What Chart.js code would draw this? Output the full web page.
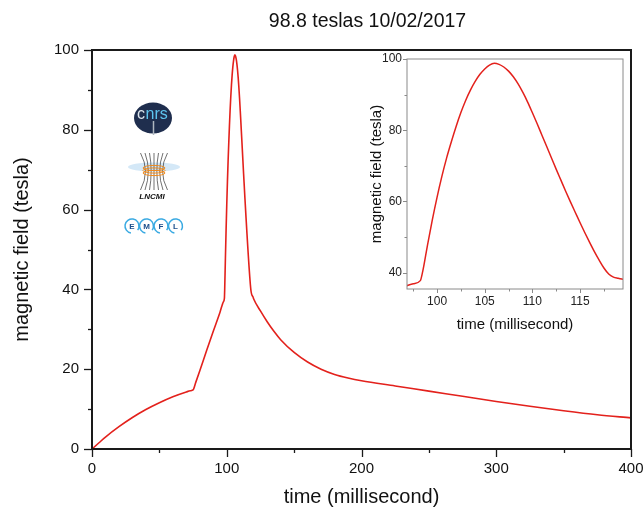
<!DOCTYPE html>
<html>
<head>
<meta charset="utf-8">
<script src="https://cdn.jsdelivr.net/npm/chart.js@4/dist/chart.umd.min.js"></script>
<style>
  body { margin: 0; background: #fff; }
  #wrap { position: relative; width: 643px; height: 510px; }
  #inset { position: absolute; left: 355px; top: 52px; background: #fff; }
</style>
</head>
<body>
<div id="wrap">
  <canvas id="main" width="643" height="510"></canvas>
  <canvas id="inset" width="274" height="290"></canvas>
</div>
<script>
// pulse data
const timeMs = [0, 5, 10, 20, 30, 40, 50, 60, 70, 73, 75, 77,
  80, 85, 90, 95, 97.5, 98.25,
  98.5, 99, 99.5, 100, 100.5, 101, 101.5, 102, 102.5, 103, 103.5, 104, 104.5, 105, 105.5,
  106, 106.5, 107, 107.5, 108, 108.5, 109, 109.5, 110, 110.5, 111, 111.5, 112, 112.5,
  113, 113.5, 114, 114.5, 115, 115.5, 116, 116.5, 117, 117.5, 118, 118.5, 119, 119.5,
  120, 125, 130, 135, 140, 150, 160, 170, 180, 190, 200,
  225, 250, 275, 300, 325, 350, 375, 400];
const fieldT = [0, 1.5, 3.0, 5.6, 7.9, 9.9, 11.6, 13.1, 14.3, 14.6, 14.8, 16.7,
  19.6, 24.6, 29.5, 34.3, 36.9, 37.75,
  40.35, 47.75, 54.75, 61.15, 66.95, 72.15, 76.75, 81.05, 84.95, 88.35, 91.25, 93.7, 95.7, 97.2, 98.3,
  98.8, 98.5, 97.75, 96.6, 95.0, 93.0, 90.6, 87.9, 84.9, 81.8, 78.6, 75.4, 72.2, 69.0,
  65.9, 62.8, 59.8, 56.9, 54.0, 51.2, 48.5, 45.9, 43.5, 41.3, 39.6, 38.75, 38.4, 38.1,
  37.6, 34.6, 31.9, 29.5, 27.4, 24.2, 21.8, 20.0, 18.7, 17.8, 17.1,
  15.8, 14.5, 13.2, 11.9, 10.7, 9.6, 8.6, 7.8];

const mainTitle = "98.8 teslas 10/02/2017";
const xTitle = "time (millisecond)";
const yTitle = "magnetic field (tesla)";

const FONT = "'Liberation Sans', Arial, sans-serif";
const RED = "#e3211c";

const points = timeMs.map((t, i) => ({ x: t, y: fieldT[i] }));

// frame + outward major/minor ticks drawn from the scales
function frameTicks(opts) {
  return {
    id: "frameTicks",
    afterDraw(chart) {
      const { ctx, chartArea: a, scales } = chart;
      ctx.save();
      ctx.strokeStyle = opts.color;
      ctx.lineWidth = opts.width;
      ctx.strokeRect(a.left, a.top, a.right - a.left, a.bottom - a.top);
      ctx.lineWidth = opts.tickWidth;
      const xs = scales.x, ys = scales.y;
      const x0 = Math.ceil(xs.min / opts.xMinor) * opts.xMinor;
      for (let v = x0; v <= xs.max + 1e-9; v += opts.xMinor) {
        const px = Math.round(xs.getPixelForValue(v)) + 0.5;
        const major = Math.abs(v / opts.xMajor - Math.round(v / opts.xMajor)) < 1e-6;
        const len = major ? opts.major : opts.minor;
        ctx.beginPath();
        ctx.moveTo(px, a.bottom);
        ctx.lineTo(px, a.bottom + len);
        ctx.stroke();
      }
      const y0 = Math.ceil(ys.min / opts.yMinor) * opts.yMinor;
      for (let v = y0; v <= ys.max + 1e-9; v += opts.yMinor) {
        const py = Math.round(ys.getPixelForValue(v)) + 0.5;
        const major = Math.abs(v / opts.yMajor - Math.round(v / opts.yMajor)) < 1e-6;
        const len = major ? opts.major : opts.minor;
        ctx.beginPath();
        ctx.moveTo(a.left, py);
        ctx.lineTo(a.left - len, py);
        ctx.stroke();
      }
      ctx.restore();
    }
  };
}

function drawLogos(ctx) {
  ctx.save();
  // cnrs
  ctx.fillStyle = "#1f2e4e";
  ctx.beginPath();
  ctx.ellipse(153, 118, 19, 15.5, 0, 0, Math.PI * 2);
  ctx.fill();
  ctx.font = "16px " + FONT;
  ctx.textBaseline = "middle";
  ctx.textAlign = "left";
  ctx.fillStyle = "#dde6ee";
  ctx.fillText("c", 137, 115);
  ctx.fillStyle = "#5ec4ef";
  ctx.fillText("nrs", 145.5, 115);
  ctx.strokeStyle = "#aeb7c0";
  ctx.lineWidth = 1.5;
  ctx.beginPath();
  ctx.moveTo(153.5, 121);
  ctx.lineTo(153.5, 135);
  ctx.stroke();

  // LNCMI: field lines fanning out from the coil
  ctx.fillStyle = "rgba(160,205,238,0.45)";
  ctx.beginPath();
  ctx.ellipse(154, 167, 26, 4.5, 0, 0, Math.PI * 2);
  ctx.fill();
  ctx.strokeStyle = "#333";
  ctx.lineWidth = 0.7;
  for (let i = -3; i <= 3; i++) {
    ctx.beginPath();
    ctx.moveTo(154 + i * 4.5, 153);
    ctx.quadraticCurveTo(154 + i * 1.2, 171, 154 + i * 4.5, 190);
    ctx.stroke();
  }
  ctx.strokeStyle = "#f08a1c";
  ctx.lineWidth = 1;
  for (let k = 0; k < 3; k++) {
    ctx.beginPath();
    ctx.ellipse(154, 168 + k * 2.5, 11, 2.6, 0, 0, Math.PI * 2);
    ctx.stroke();
  }
  ctx.fillStyle = "#111";
  ctx.font = "italic bold 8px " + FONT;
  ctx.textAlign = "center";
  ctx.fillText("LNCMI", 152, 197);

  // EMFL
  const letters = ["E", "M", "F", "L"];
  ctx.lineWidth = 1.5;
  letters.forEach((l, i) => {
    const cx = 132 + i * 14.5;
    ctx.strokeStyle = "#3aaae2";
    ctx.beginPath();
    ctx.arc(cx, 226, 7, Math.PI * 0.55, Math.PI * 2.2);
    ctx.stroke();
    ctx.fillStyle = "#1c4f8c";
    ctx.font = "bold 8px " + FONT;
    ctx.fillText(l, cx, 226.5);
  });
  ctx.restore();
}

const decor = {
  id: "decor",
  afterDraw(chart) {
    const ctx = chart.ctx;
    ctx.save();
    ctx.fillStyle = "#111";
    ctx.font = "19.5px " + FONT;
    ctx.textAlign = "center";
    ctx.textBaseline = "middle";
    ctx.fillText(mainTitle, 367.5, 22);
    ctx.restore();
    drawLogos(ctx);
  }
};

function noPad(scale) {
  scale.paddingLeft = 0;
  scale.paddingRight = 0;
  scale.paddingTop = 0;
  scale.paddingBottom = 0;
}

new Chart(document.getElementById("main"), {
  type: "line",
  data: {
    datasets: [{
      data: points,
      borderColor: RED,
      borderWidth: 1.6,
      pointRadius: 0,
      cubicInterpolationMode: "monotone"
    }]
  },
  options: {
    responsive: false,
    animation: false,
    devicePixelRatio: 1,
    layout: { padding: { top: 50, right: 12, left: 0, bottom: 0 } },
    plugins: { legend: { display: false }, tooltip: { enabled: false } },
    scales: {
      x: {
        type: "linear",
        min: 0,
        max: 400,
        grid: { display: false, drawTicks: true, tickLength: 8 },
        border: { display: false },
        ticks: { stepSize: 100, padding: 3, color: "#111", font: { family: FONT, size: 15 }, maxRotation: 0 },
        title: { display: true, text: xTitle, color: "#111", font: { family: FONT, size: 20 }, padding: { top: 0, bottom: 1 } },
        afterFit(s) { s.height = 61; noPad(s); }
      },
      y: {
        min: 0,
        max: 100,
        grid: { display: false, drawTicks: true, tickLength: 8 },
        border: { display: false },
        ticks: { stepSize: 20, padding: 5, color: "#111", font: { family: FONT, size: 15 } },
        title: { display: true, text: yTitle, color: "#111", font: { family: FONT, size: 20 }, padding: { top: 10, bottom: 0 } },
        afterFit(s) { s.width = 92; noPad(s); }
      }
    }
  },
  plugins: [
    frameTicks({ color: "#1a1a1a", width: 2, tickWidth: 1.3, major: 8, minor: 4, xMajor: 100, xMinor: 50, yMajor: 20, yMinor: 10 }),
    decor
  ]
});

new Chart(document.getElementById("inset"), {
  type: "line",
  data: {
    datasets: [{
      data: points,
      borderColor: RED,
      borderWidth: 1.5,
      pointRadius: 0,
      cubicInterpolationMode: "monotone"
    }]
  },
  options: {
    responsive: false,
    animation: false,
    devicePixelRatio: 1,
    layout: { padding: { top: 7, right: 6, left: 0, bottom: 0 } },
    plugins: { legend: { display: false }, tooltip: { enabled: false } },
    scales: {
      x: {
        type: "linear",
        min: 96.85,
        max: 119.5,
        grid: { display: false, drawTicks: true, tickLength: 5 },
        border: { display: false },
        ticks: { stepSize: 5, includeBounds: false, padding: 0, color: "#222", font: { family: FONT, size: 12 }, maxRotation: 0 },
        title: { display: true, text: xTitle, color: "#111", font: { family: FONT, size: 15 }, padding: { top: 0, bottom: 8 } },
        afterFit(s) { s.height = 53; noPad(s); }
      },
      y: {
        min: 35.4,
        max: 100,
        grid: { display: false, drawTicks: true, tickLength: 4 },
        border: { display: false },
        ticks: { stepSize: 20, includeBounds: false, padding: 1, color: "#222", font: { family: FONT, size: 12 } },
        title: { display: true, text: yTitle, color: "#111", font: { family: FONT, size: 15 }, padding: { top: 13, bottom: 0 } },
        afterFit(s) { s.width = 52; noPad(s); }
      }
    }
  },
  plugins: [
    frameTicks({ color: "#8a8a8a", width: 1, tickWidth: 1, major: 4, minor: 2.5, xMajor: 5, xMinor: 2.5, yMajor: 20, yMinor: 10 })
  ]
});
</script>
</body>
</html>
